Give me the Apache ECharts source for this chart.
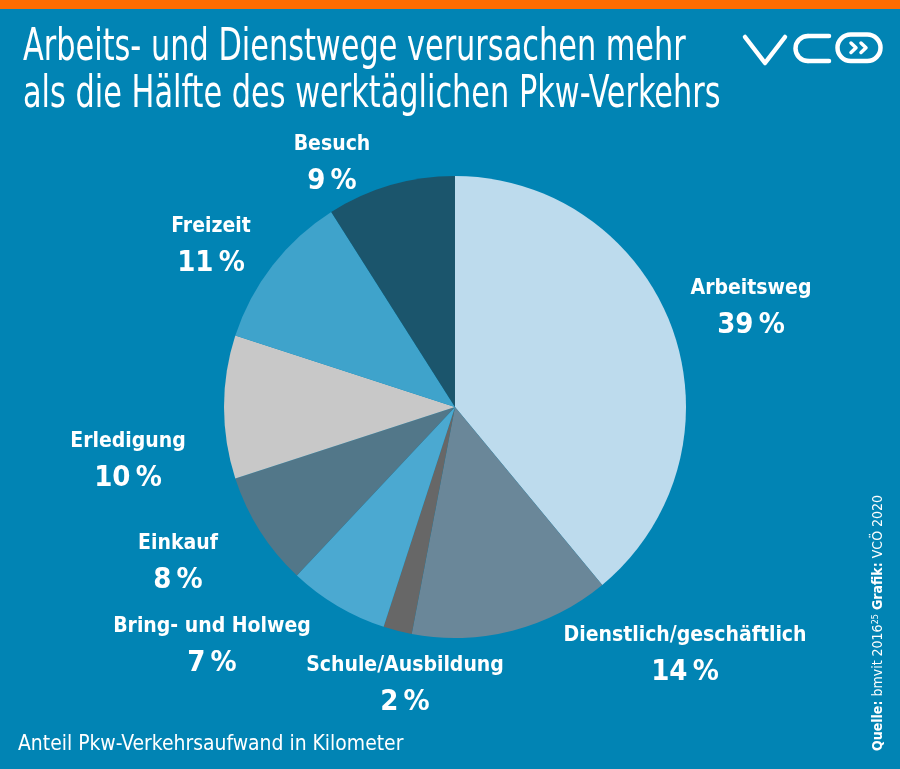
<!DOCTYPE html>
<html lang="de">
<head>
  <meta charset="UTF-8">
  <title>Pkw-Verkehr</title>
  <style>
    html, body { margin: 0; height: 100%; width: 100%; background: #0184b4; }
  </style>
</head>
<body>
  <div id="chart" style="width:900px;height:769px"></div>
  <script src="https://cdn.jsdelivr.net/npm/echarts@6/dist/echarts.min.js"></script>
  <script>
    const categories = ['Arbeitsweg', 'Dienstlich/geschäftlich', 'Schule/Ausbildung', 'Bring- und Holweg',
      'Einkauf', 'Erledigung', 'Freizeit', 'Besuch']
    const shares = [39, 14, 2, 7, 8, 10, 11, 9]
    const colors = ['#bddbed', '#6a8799', '#676767', '#4ba9d1', '#527789', '#c8c8c8', '#3fa3cb', '#1b556c']
    // where each label sits (centre of the two lines)
    const labelPos = [[751, 307], [685, 654], [405, 684], [212, 645], [178, 562], [128, 460], [211, 245], [332, 163]]

    const narrow = '"Liberation Sans Narrow", "DejaVu Sans Condensed", sans-serif'

    const data = categories.map((name, i) => ({
      name: name,
      value: shares[i],
      itemStyle: { color: colors[i] }
    }))

    const white = { stroke: '#fff', lineWidth: 4.5, lineCap: 'round', lineJoin: 'round', fill: null }
    const thin = { stroke: '#fff', lineWidth: 3.5, lineCap: 'round', lineJoin: 'round', fill: null }

    const option = {
      backgroundColor: '#0184b4',
      animation: false,
      graphic: [
        { type: 'rect', shape: { x: 0, y: 0, width: 900, height: 9 }, style: { fill: '#ff6c00' } },
        {
          type: 'text', x: 23, y: 25, scaleX: 0.75,
          style: {
            text: 'Arbeits- und Dienstwege verursachen mehr\nals die Hälfte des werktäglichen Pkw-Verkehrs',
            fill: '#fff', font: '45px ' + narrow, lineHeight: 47
          }
        },
        {
          type: 'text', x: 18, y: 733, scaleX: 0.95,
          style: { text: 'Anteil Pkw-Verkehrsaufwand in Kilometer', fill: '#fff', font: '22px ' + narrow }
        },
        // logo
        { type: 'polyline', shape: { points: [[745, 37], [765, 63], [785, 37]] }, style: white },
        { type: 'arc', shape: { cx: 808, cy: 48.5, r: 12.5, startAngle: Math.PI / 2, endAngle: Math.PI * 1.5, clockwise: true }, style: white },
        { type: 'line', shape: { x1: 808, y1: 36, x2: 829, y2: 36 }, style: white },
        { type: 'line', shape: { x1: 808, y1: 61, x2: 829, y2: 61 }, style: white },
        { type: 'rect', shape: { x: 837.5, y: 34.5, width: 43, height: 26.5, r: 13.25 }, style: white },
        { type: 'polyline', shape: { points: [[851, 43], [856, 47.75], [851, 52.5]] }, style: thin },
        { type: 'polyline', shape: { points: [[861, 43], [866, 47.75], [861, 52.5]] }, style: thin },
        // source, rotated
        {
          type: 'text', x: 871, y: 751, rotation: Math.PI / 2,
          style: {
            text: '{b|Quelle:} bmvit 2016{s|25} {b|Grafik:} VCÖ 2020',
            fill: '#fff', font: '14px ' + narrow,
            rich: {
              b: { fontWeight: 'bold', fontSize: 14, fontFamily: narrow, fill: '#fff' },
              s: { fontSize: 9, fontFamily: narrow, fill: '#fff', verticalAlign: 'top', padding: [0, 0, 6, 0] }
            }
          }
        }
      ],
      series: [{
        type: 'pie',
        center: [455, 407],
        radius: [0, 231],
        startAngle: 90,
        clockwise: true,
        avoidLabelOverlap: false,
        data: data,
        label: {
          show: true,
          position: 'outside',
          formatter: '{n|{b}}\n{p|{c}\u2009%}',
          align: 'center',
          rich: {
            n: { color: '#fff', fontFamily: narrow, fontWeight: 'bold', fontSize: 21, lineHeight: 36, align: 'center' },
            p: { color: '#fff', fontFamily: narrow, fontWeight: 'bold', fontSize: 29, lineHeight: 36, align: 'center' }
          }
        },
        labelLine: { show: false },
        labelLayout: function (params) {
          const p = labelPos[params.dataIndex]
          return { x: p[0], y: p[1], align: 'center', verticalAlign: 'middle' }
        },
        emphasis: { disabled: true }
      }]
    }

    const myChart = echarts.init(document.getElementById('chart'))
    myChart.setOption(option)
  </script>
</body>
</html>
